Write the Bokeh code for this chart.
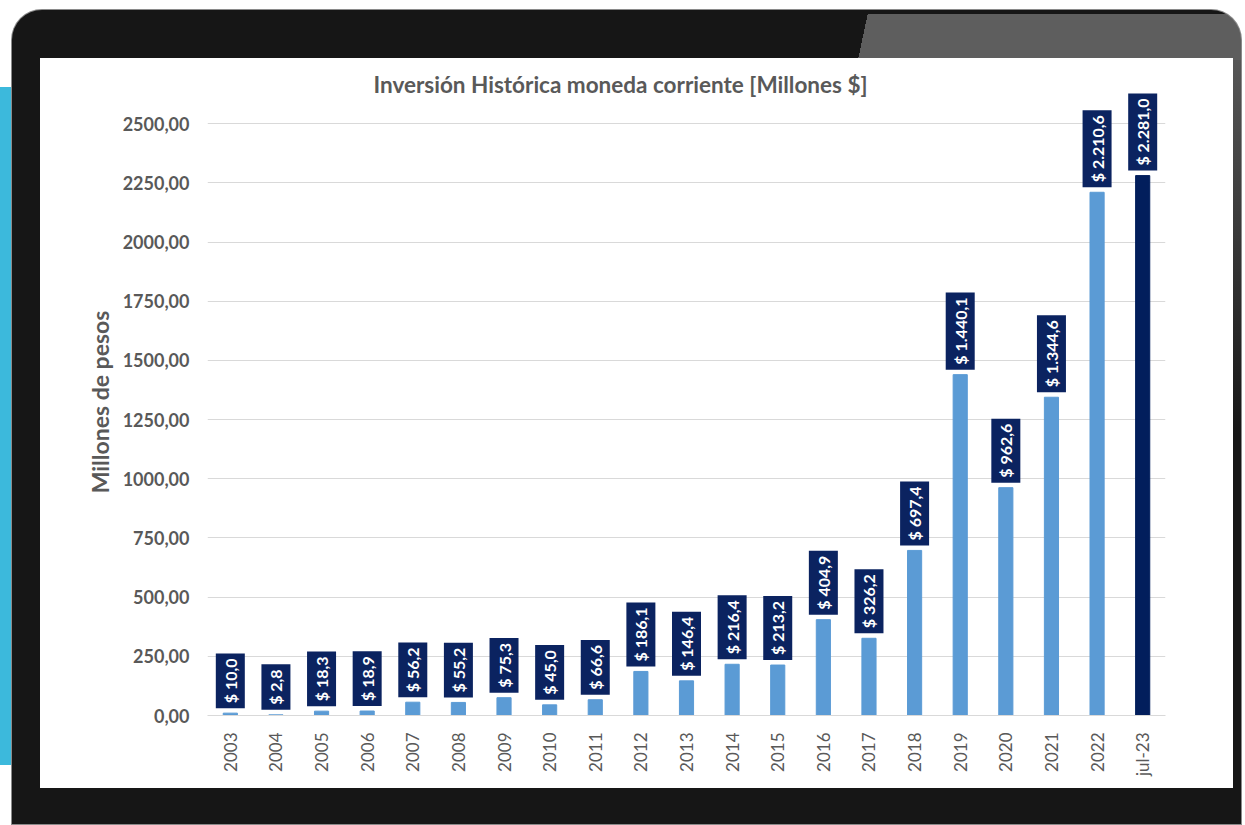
from math import pi

from bokeh.embed import file_html
from bokeh.layouts import column
from bokeh.models import ColumnDataSource, FactorRange, FixedTicker, Label, Range1d
from bokeh.plotting import figure
from bokeh.resources import INLINE

# ---------------- data ----------------
categories = ["2003", "2004", "2005", "2006", "2007", "2008", "2009", "2010", "2011",
              "2012", "2013", "2014", "2015", "2016", "2017", "2018", "2019", "2020",
              "2021", "2022", "jul-23"]
values = [10.0, 2.8, 18.3, 18.9, 56.2, 55.2, 75.3, 45.0, 66.6, 186.1, 146.4, 216.4,
          213.2, 404.9, 326.2, 697.4, 1440.1, 962.6, 1344.6, 2210.6, 2281.0]
y_ticks = [0, 250, 500, 750, 1000, 1250, 1500, 1750, 2000, 2250, 2500]
title_text = "Inversión Histórica moneda corriente [Millones $]"
y_axis_label = "Millones de pesos"

LIGHT_BLUE = "#5b9bd5"
NAVY = "#0b2360"
GREY_TEXT = "#595959"
FONT = "Lato"


def money(v):
    s = f"{v:,.1f}".replace(",", "_").replace(".", ",").replace("_", ".")
    return "$ " + s


colors = [LIGHT_BLUE] * (len(categories) - 1) + ["#021e5c"]
source = ColumnDataSource(dict(
    cat=categories,
    val=values,
    color=colors,
))

p = figure(
    x_range=FactorRange(*categories, range_padding=0),
    y_range=Range1d(0, 2649),
    width=1193, height=730,
    output_backend="svg", toolbar_location=None,
    min_border_left=167, min_border_right=68, min_border_top=30, min_border_bottom=73,
)
p.margin = (48, 8, 36, 28)
p.styles = {"background-color": "white"}
p.border_fill_color = "white"
p.background_fill_color = "white"
p.outline_line_color = None

p.vbar(x="cat", top="val", width=0.31, color="color", source=source)

# data labels (navy boxes, rotated)
for i, v in enumerate(values):
    p.add_layout(Label(
        x=i + 0.5, y=v, text=money(v),
        angle=pi / 2, text_align="left", text_baseline="middle",
        y_offset=5,
        text_color="white", text_font=FONT, text_font_size="16px", text_font_style="bold",
        background_fill_color=NAVY, padding=5,
    ))

# title
p.title.text = title_text
p.title.text_font = FONT
p.title.text_font_size = "22.5px"
p.title.text_font_style = "bold"
p.title.text_color = GREY_TEXT
p.title.align = "left"
p.title.offset = 166
p.title.standoff = -18

# axes
p.xgrid.grid_line_color = None
p.ygrid.grid_line_color = "#d9d9d9"
p.ygrid.ticker = FixedTicker(ticks=y_ticks)

p.yaxis.ticker = FixedTicker(ticks=y_ticks)
p.yaxis.major_label_overrides = {t: f"{t},00" for t in y_ticks}
p.yaxis.axis_line_color = None
p.yaxis.major_tick_line_color = None
p.yaxis.minor_tick_line_color = None
p.yaxis.major_tick_out = 0
p.yaxis.major_tick_in = 0
p.yaxis.major_label_standoff = 18
p.yaxis.major_label_text_font = FONT
p.yaxis.major_label_text_font_size = "18px"
p.yaxis.major_label_text_font_style = "bold"
p.yaxis.major_label_text_color = GREY_TEXT
p.yaxis.axis_label = y_axis_label
p.yaxis.axis_label_text_font = FONT
p.yaxis.axis_label_text_font_size = "23px"
p.yaxis.axis_label_text_font_style = "bold"
p.yaxis.axis_label_text_color = GREY_TEXT
p.yaxis.axis_label_standoff = 6

p.xaxis.axis_line_color = "#d9d9d9"
p.xaxis.major_tick_line_color = None
p.xaxis.minor_tick_line_color = None
p.xaxis.major_tick_out = 0
p.xaxis.major_tick_in = 0
p.xaxis.major_label_orientation = pi / 2
p.xaxis.major_label_standoff = 17
p.xaxis.major_label_text_font = FONT
p.xaxis.major_label_text_font_size = "17px"
p.xaxis.major_label_text_color = GREY_TEXT

# laptop-like frame around the chart
frame = column(p)
frame.margin = (10, 0, 0, 12)
frame.styles = {
    "background-color": "#161616",
    "border-radius": "30px 30px 0 0",
    "box-shadow": "0 0 0 1px #8a8a8a",
    "background-image": "linear-gradient(102deg, rgba(0,0,0,0) 837px, #5e5e5e 837px), "
                        "linear-gradient(to bottom, #5e5e5e, rgba(94,94,94,0))",
    "background-size": "100% 46px, 12px 420px",
    "background-position": "0 4px, right 0 top 4px",
    "background-repeat": "no-repeat",
}

outer = column(frame)
outer.styles = {
    "background-color": "white",
    "background-image": "linear-gradient(#3cb9dc, #3cb9dc)",
    "background-size": "12px 678px",
    "background-position": "0 87px",
    "background-repeat": "no-repeat",
}

open("out.html", "w").write(file_html(outer, INLINE))
